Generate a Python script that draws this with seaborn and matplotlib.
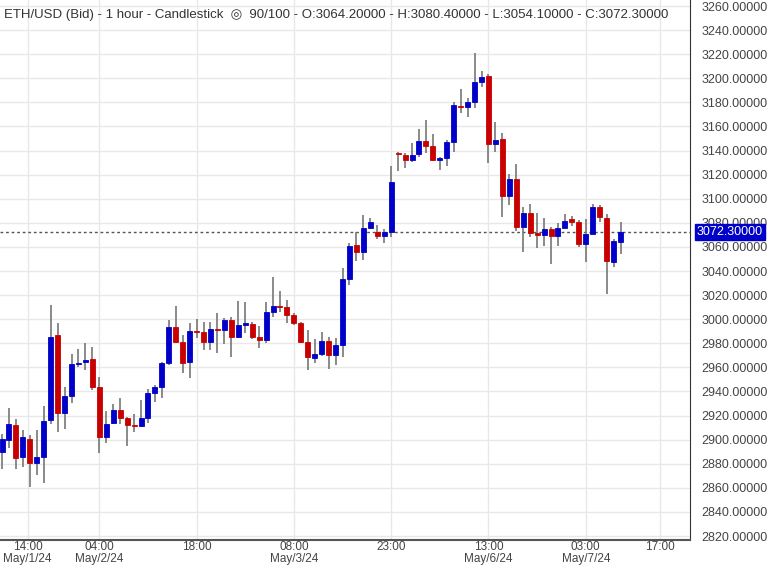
import matplotlib
matplotlib.use('Agg')
import matplotlib.pyplot as plt
import numpy as np
import seaborn as sns

# hourly ETH/USD candles
opens = [2890, 2900, 2912.4, 2886, 2900.8, 2881, 2885.6, 2916.3, 2986.6, 2921.9,
         2936.5, 2962.8, 2964.4, 2967, 2943.5, 2902.4, 2914, 2924.6, 2918, 2912,
         2911.3, 2918, 2939, 2943.5, 2963.4, 2993.5, 2980.8, 2964.7, 2990.2, 2989.4,
         2980.8, 2991.6, 2991, 2999.3, 2985.5, 2995.4, 2996, 2985.5, 2982.7, 3005.7,
         3010.7, 3009.9, 3003.2, 2996.6, 2981.3, 2968, 2971.1, 2981.9, 2970, 2978.3,
         3033.4, 3061.6, 3055.5, 3076, 3072.4, 3069, 3072.4, 3137.7, 3136.4, 3132.2,
         3137, 3147.7, 3143.5, 3132, 3134, 3147.3, 3177.3, 3176, 3180.3, 3197,
         3202, 3145.5, 3149.4, 3102.5, 3116, 3076.8, 3088.4, 3071.8, 3069.9, 3074.9,
         3069, 3076, 3083.5, 3081, 3062.4, 3071, 3093, 3083.8, 3047.8, 3064.2]
closes = [2900.3, 2913, 2885, 2902, 2880.6, 2886, 2915.7, 2985, 2921.9, 2936,
          2962.5, 2964, 2966.4, 2943.5, 2902.4, 2913, 2924.6, 2918, 2912, 2911.3,
          2918, 2938.7, 2943.5, 2963.4, 2993.5, 2980.8, 2964, 2990.5, 2989, 2980.8,
          2991.6, 2991, 2999.3, 2985.5, 2995.4, 2996.6, 2985, 2982.7, 3005.7, 3010.7,
          3009.9, 3003.5, 2997.1, 2981.3, 2968.9, 2971.1, 2981.9, 2970, 2978.9, 3033.4,
          3060.5, 3055.5, 3076, 3081, 3069, 3072.4, 3114, 3137, 3132.2, 3136.4,
          3147.7, 3143.8, 3132.2, 3133.6, 3147.3, 3177.8, 3176, 3180.3, 3196.7, 3201.4,
          3145.5, 3148.8, 3102.5, 3116, 3076.8, 3088.4, 3071.8, 3069.9, 3074.9, 3069,
          3075.7, 3081.5, 3081, 3062.2, 3070.7, 3093, 3085, 3048.6, 3065, 3072.3]
highs = [2905, 2926, 2917, 2908, 2903.6, 2908, 2928, 3011.8, 2997, 2943.5,
         2970.8, 2975, 2980, 2976.7, 2952.3, 2923.8, 2930, 2934.5, 2919, 2921,
         2933, 2942, 2945, 2964.8, 2999.3, 3011, 2986.9, 2996.8, 2999.9, 2998,
         2998, 3005, 3000.7, 3001.6, 3015, 3014.5, 2998, 2994.4, 3014, 3035.3,
         3023.4, 3016, 3005, 2998, 2991, 2983.3, 2989.6, 2985.5, 2984.6, 3042.8,
         3063.6, 3072.7, 3086.5, 3083.8, 3078.2, 3074.6, 3127, 3139, 3137.7, 3146,
         3157.6, 3165.4, 3153.5, 3135, 3148.8, 3180.6, 3190.8, 3184, 3221, 3206.4,
         3203.6, 3164, 3154.4, 3120.3, 3128.6, 3093.4, 3095.6, 3088.4, 3083.8, 3076.8,
         3080.2, 3087.3, 3085.7, 3082.4, 3083, 3095.6, 3094.8, 3087.3, 3066.3, 3080.4]
lows = [2876, 2893, 2876, 2877.5, 2861, 2870.6, 2863.7, 2913, 2906.6, 2909,
        2930.7, 2960, 2958, 2941, 2888.7, 2897, 2913, 2912.7, 2895, 2906,
        2910.7, 2913.6, 2931.5, 2935, 2962, 2980, 2955.6, 2951, 2984, 2974.4,
        2974.4, 2972, 2979.4, 2968.9, 2984, 2988.8, 2983.3, 2976.4, 2980.5, 3002,
        3005.7, 2996.6, 2995.2, 2980.5, 2957.8, 2963.4, 2969.4, 2958.4, 2962, 2968.9,
        3028.4, 3048.6, 3049.2, 3074.6, 3066.3, 3063, 3068.5, 3123.3, 3125.8, 3130.5,
        3135, 3137.7, 3131.6, 3124, 3127.4, 3138.8, 3171.4, 3168, 3175, 3192.5,
        3130, 3139, 3085, 3095, 3073.5, 3056, 3068.5, 3058.8, 3060.8, 3045.6,
        3060.8, 3075.5, 3077.4, 3060.2, 3047.8, 3070.5, 3081, 3020.9, 3043, 3054.1]

tick_pos = [3.7, 14, 28, 42, 56, 70, 84, 94.7]
tick_labels = ['14:00\nMay/1/24', '04:00\nMay/2/24', '18:00', '08:00\nMay/3/24',
               '23:00', '13:00\nMay/6/24', '03:00\nMay/7/24', '17:00']
last_price = 3072.3

sns.set_style('whitegrid')
plt.rcParams['font.family'] = ['Liberation Sans', 'DejaVu Sans']

fig = plt.figure(figsize=(7.68, 5.68), dpi=100)
ax = fig.add_axes([0, 28 / 568, 690 / 768, 540 / 568])

o = np.array(opens)
c = np.array(closes)
idx = np.arange(len(o))
up = c >= o
colors = np.where(up, '#0000c8', '#c80000')

ax.vlines(idx, lows, highs, color='#777777', linewidth=1.2, zorder=2)
body_lo = np.minimum(o, c)
body_h = np.maximum(np.abs(c - o), 1.2)
ax.bar(idx, body_h, bottom=body_lo, width=0.72, color=colors,
       edgecolor=colors, linewidth=0.6, zorder=3)

ax.axhline(last_price, color='#555555', linestyle=(0, (2, 2)), linewidth=1, zorder=1)

ax.set_xlim(-0.29, 99)
ax.set_ylim(2816.7, 3265)
ax.set_yticks(np.arange(2820, 3261, 20))
ax.yaxis.tick_right()
ax.yaxis.set_major_formatter(matplotlib.ticker.FormatStrFormatter('%.5f'))
ax.set_xticks(tick_pos)
ax.set_xticklabels(tick_labels, linespacing=0.95)
ax.tick_params(axis='both', labelsize=9, colors='#444444', length=0)
ax.tick_params(axis='x', labelsize=8.5, pad=1)
ax.tick_params(axis='y', pad=8)
ax.grid(True, color='#e8e8e8', linewidth=1)

for s in ['top', 'left']:
    ax.spines[s].set_visible(False)
ax.spines['right'].set_color('#333333')
ax.spines['bottom'].set_color('#555555')
ax.spines['bottom'].set_linewidth(1.5)

ax.text(0.0062, 0.983,
        'ETH/USD (Bid) - 1 hour - Candlestick  \u25ce  90/100 - O:3064.20000 - '
        'H:3080.40000 - L:3054.10000 - C:3072.30000',
        transform=ax.transAxes, fontsize=9.5, color='#333333', va='top', ha='left')

ax.text(1.01, last_price, '%.5f' % last_price, transform=ax.get_yaxis_transform(),
        fontsize=9, color='white', va='center', ha='left',
        bbox=dict(boxstyle='square,pad=0.15', fc='#0000c8', ec='#0000c8'))

fig.savefig('out.png', dpi=100)
